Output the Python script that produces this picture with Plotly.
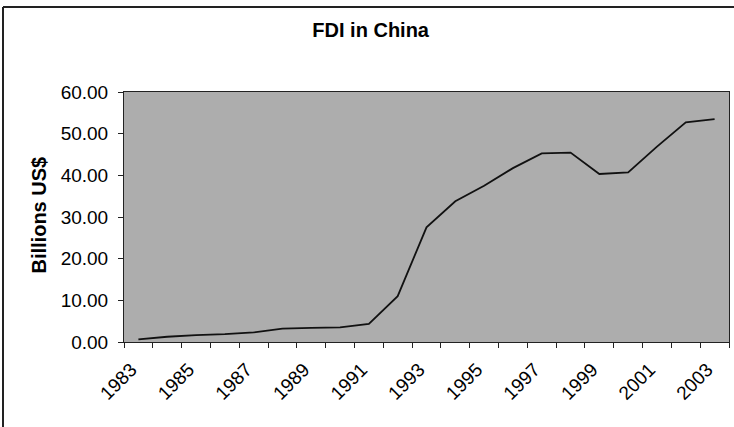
import plotly.graph_objects as go

# Foreign direct investment inflows into China, billions of US dollars
years = list(range(1983, 2004))
fdi = [0.64, 1.26, 1.66, 1.87, 2.31, 3.19, 3.39, 3.49, 4.37, 11.01, 27.52,
       33.77, 37.52, 41.73, 45.26, 45.46, 40.32, 40.72, 46.88, 52.74, 53.51]

label_years = [y for y in years if (y - 1983) % 2 == 0]
label_text = [str(y) for y in label_years]
boundaries = [y - 0.5 for y in years] + [years[-1] + 0.5]

FONT = "Liberation Sans, Arial, sans-serif"
x_range = [years[0] - 0.5, years[-1] + 0.5]
LABEL_NUDGE = 0.25  # rotated labels end slightly left of the category centre

fig = go.Figure()
fig.add_trace(go.Scatter(
    x=years, y=fdi, mode="lines",
    line=dict(color="#111111", width=1.8),
    hoverinfo="x+y", showlegend=False,
))

# invisible helper trace so the tick-mark axis is drawn
fig.add_trace(go.Scatter(x=[years[0]], y=[fdi[0]], xaxis="x2", mode="none",
                         showlegend=False, hoverinfo="skip"))

fig.update_layout(
    width=734, height=427,
    margin=dict(l=124, r=5, t=92, b=85),
    paper_bgcolor="white",
    plot_bgcolor="#adadad",
    font=dict(family=FONT, size=19, color="black"),
    title=dict(text="<b>FDI in China</b>", x=0.505, xanchor="center",
               y=1 - 30 / 427, yanchor="middle",
               font=dict(family=FONT, size=20, color="black")),
    xaxis=dict(
        range=x_range, tickmode="array",
        tickvals=[y - LABEL_NUDGE for y in label_years], ticktext=label_text,
        tickangle=-45, ticks="", showgrid=False, zeroline=False,
        showline=True, linecolor="#222222", linewidth=1, mirror=True,
        ticklabelstandoff=8,
        tickfont=dict(family=FONT, size=19, color="black"),
    ),
    xaxis2=dict(
        range=x_range, overlaying="x", side="bottom", anchor="y",
        tickmode="array", tickvals=boundaries, ticks="outside", ticklen=5,
        tickcolor="#222222", tickwidth=1, showticklabels=False,
        showgrid=False, zeroline=False, showline=False,
    ),
    yaxis=dict(
        range=[0, 60], dtick=10, tickformat=".2f", ticks="outside", ticklen=5,
        tickcolor="#222222", showgrid=False, zeroline=False,
        showline=True, linecolor="#222222", linewidth=1, mirror=True,
        ticklabelstandoff=6,
        tickfont=dict(family=FONT, size=19, color="black"),
    ),
    annotations=[dict(
        text="<b>Billions US$</b>", xref="paper", yref="paper",
        x=(38 - 124) / 605, y=0.506, xanchor="center", yanchor="middle",
        textangle=-90, showarrow=False,
        font=dict(family=FONT, size=20, color="black"),
    )],
    shapes=[
        # outer chart frame (left and top edges)
        dict(type="line", xref="paper", yref="paper",
             x0=(3 - 124) / 605, x1=(3 - 124) / 605,
             y0=(342 - 440) / 250, y1=(342 - 7) / 250,
             line=dict(color="#222222", width=2)),
        dict(type="line", xref="paper", yref="paper",
             x0=(3 - 124) / 605, x1=(740 - 124) / 605,
             y0=(342 - 7) / 250, y1=(342 - 7) / 250,
             line=dict(color="#222222", width=2)),
    ],
)

fig.write_html("out.html")
